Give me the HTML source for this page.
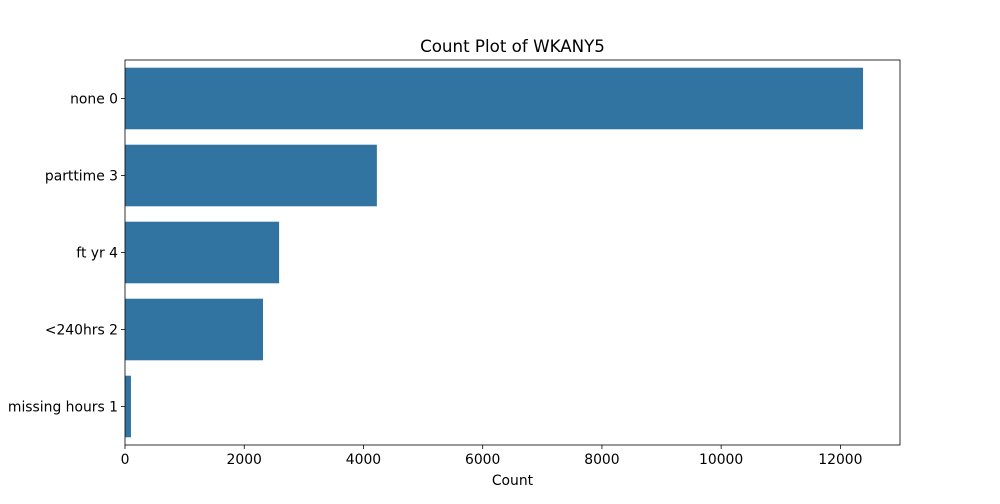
<!DOCTYPE html>
<html><head><meta charset="utf-8"><style>
body{margin:0;background:#fff;font-family:"DejaVu Sans","Liberation Sans",sans-serif;}
svg text{font-family:"DejaVu Sans","Liberation Sans",sans-serif;}
</style></head><body>
<svg id="chart" width="1000" height="500"></svg>
<script>
const categories = ["none 0","parttime 3","ft yr 4","<240hrs 2","missing hours 1"];
const counts = [12380, 4225, 2585, 2315, 100];
const xTicks = [0,2000,4000,6000,8000,10000,12000];
const L=125,R=900,T=60,B=445,XMAX=13000;
const svg=document.getElementById('chart');
const NS='http://www.w3.org/2000/svg';
function x(v){return L+(R-L)*v/XMAX;}
const band=(B-T)/categories.length;
function yc(i){return T+band*(i+0.5);}
function mk(t,a,p){const e=document.createElementNS(NS,t);for(const k in a)e.setAttribute(k,a[k]);(p||svg).appendChild(e);return e;}
counts.forEach((c,i)=>{
 const r=mk('rect',{x:x(0),y:yc(i)-band*0.4,width:x(c)-x(0),height:band*0.8,fill:'#3274a1'});
 
 
 mk('line',{x1:L-4,x2:L,y1:yc(i),y2:yc(i),stroke:'#000','stroke-width':0.8});
 const t=mk('text',{x:L-7,y:yc(i)+5,'text-anchor':'end','font-size':13.9,fill:'#000'});
 t.textContent=categories[i];
 
 
});
xTicks.forEach(v=>{
 mk('line',{x1:x(v),x2:x(v),y1:B,y2:B+4,stroke:'#000','stroke-width':0.8});
 const t=mk('text',{x:x(v),y:B+19,'text-anchor':'middle','font-size':13.9,fill:'#000'});
 t.textContent=v;
 
 
});
const f=mk('rect',{x:L,y:T,width:R-L,height:B-T,fill:'none',stroke:'#000','stroke-width':0.8});


const xt=mk('text',{x:(L+R)/2,y:485,'text-anchor':'middle','font-size':13.9});
xt.textContent='Count';


const tt=mk('text',{x:(L+R)/2,y:52,'text-anchor':'middle','font-size':16.7});
tt.textContent='Count Plot of WKANY5';


</script>
</body></html>
